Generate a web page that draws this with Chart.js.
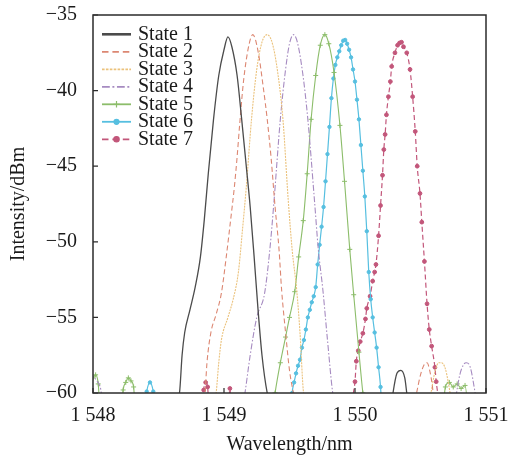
<!DOCTYPE html>
<html>
<head>
<meta charset="utf-8">
<script src="https://cdn.jsdelivr.net/npm/chart.js@4.4.0/dist/chart.umd.min.js"></script>
<style>
  html, body { margin: 0; padding: 0; background: #fff; }
  #wrap { width: 510px; height: 463px; }
</style>
</head>
<body>
<div id="wrap"><canvas id="c" width="510" height="463"></canvas></div>
<script>
// spectra: [wavelength nm, intensity dBm]
// points below -60 sit under the axis and get clipped
const seriesNames = ['State 1', 'State 2', 'State 3', 'State 4', 'State 5', 'State 6', 'State 7'];

const state1 = [
  [1548.55, -62], [1548.66, -60], [1548.68, -57.5], [1548.70, -56], [1548.74, -54.5], [1548.78, -53],
  [1548.82, -51], [1548.85, -48.5], [1548.88, -45.5], [1548.92, -41.9], [1548.96, -39], [1549.00, -37.3],
  [1549.03, -36.45], [1549.06, -37.1], [1549.10, -39], [1549.135, -41.9], [1549.17, -45], [1549.20, -47.7],
  [1549.23, -51], [1549.26, -54.5], [1549.29, -57.5], [1549.33, -60], [1549.40, -62],
  [1550.26, -62], [1550.29, -60], [1550.32, -58.7], [1550.35, -58.5], [1550.38, -59], [1550.40, -60.3], [1550.45, -62]
];

const state2 = [
  [1548.80, -62], [1548.855, -60], [1548.87, -58], [1548.90, -56], [1548.94, -54.8], [1548.98, -53.4],
  [1549.02, -50.8], [1549.05, -48.6], [1549.08, -46.3], [1549.10, -44.4], [1549.12, -42.2], [1549.15, -39.3],
  [1549.19, -37.0], [1549.22, -36.3], [1549.26, -37.4], [1549.30, -39.8], [1549.33, -41.9], [1549.36, -44.5],
  [1549.39, -47.7], [1549.42, -50.5], [1549.44, -53.2], [1549.47, -56], [1549.50, -58.5], [1549.53, -60], [1549.58, -62],
  [1550.42, -62], [1550.47, -60], [1550.50, -58.8], [1550.53, -58.1], [1550.55, -58.0], [1550.57, -58.5], [1550.59, -59.5], [1550.62, -62]
];

const state3 = [
  [1548.90, -62], [1548.94, -60], [1548.96, -58], [1548.98, -56.5], [1549.03, -55], [1549.07, -53.8],
  [1549.11, -52], [1549.14, -49.3], [1549.17, -46.4], [1549.21, -41.9], [1549.25, -38.6], [1549.29, -36.8],
  [1549.33, -36.3], [1549.37, -36.9], [1549.41, -38.8], [1549.45, -41.9], [1549.49, -47.2], [1549.52, -50.5],
  [1549.555, -53.2], [1549.58, -56], [1549.605, -59.8], [1549.66, -62],
  [1550.54, -62], [1550.58, -60], [1550.61, -58.6], [1550.64, -58.0], [1550.66, -58.0], [1550.69, -58.4], [1550.71, -59.2], [1550.73, -60.2], [1550.77, -62]
];

const state4 = [
  [1547.98, -58.6], [1548.00, -58.9], [1548.03, -59.2], [1548.06, -59.8], [1548.09, -62],
  [1549.12, -62], [1549.16, -60], [1549.20, -57.5], [1549.25, -55], [1549.31, -53.4], [1549.35, -50.5],
  [1549.38, -47.5], [1549.43, -41.9], [1549.47, -38.6], [1549.50, -36.9], [1549.53, -36.3], [1549.56, -36.8],
  [1549.60, -38.8], [1549.64, -41.9], [1549.69, -47.2], [1549.72, -50.5], [1549.755, -53.2], [1549.79, -56.5],
  [1549.83, -60], [1549.88, -62],
  [1550.74, -62], [1550.775, -60], [1550.80, -58.8], [1550.83, -58.1], [1550.85, -58.0], [1550.88, -58.3], [1550.915, -59.9], [1550.95, -62]
];

const state5 = [
  [1547.98, -59.2], [1548.00, -59.0], [1548.02, -58.8], [1548.04, -59.4], [1548.06, -62],
  [1548.21, -62], [1548.23, -59.8], [1548.25, -59.3], [1548.27, -59.0], [1548.29, -59.2], [1548.31, -59.6], [1548.33, -62],
  [1549.36, -62], [1549.39, -60], [1549.43, -58], [1549.47, -56.3], [1549.50, -55], [1549.54, -53.3],
  [1549.57, -51], [1549.605, -48.6], [1549.635, -45.5], [1549.665, -41.9], [1549.70, -39], [1549.735, -37],
  [1549.77, -36.3], [1549.80, -36.9], [1549.84, -38.8], [1549.885, -42.3], [1549.92, -46], [1549.96, -50.5],
  [1549.99, -53.5], [1550.03, -57.3], [1550.06, -60], [1550.09, -62],
  [1550.66, -62], [1550.69, -59.6], [1550.72, -59.3], [1550.75, -59.6], [1550.78, -59.4], [1550.81, -59.7], [1550.84, -59.5], [1550.87, -62]
];

const state6 = [
  [1548.38, -62], [1548.41, -59.9], [1548.435, -59.3], [1548.46, -59.9], [1548.49, -62],
  [1549.505, -62], [1549.52, -60], [1549.535, -59.3], [1549.55, -58.7], [1549.565, -58.2], [1549.58, -57.8],
  [1549.595, -57.0], [1549.61, -56.5], [1549.625, -55.8], [1549.64, -55.0], [1549.655, -54.5], [1549.67, -54.0],
  [1549.685, -53.6], [1549.70, -53.0], [1549.715, -51.5], [1549.73, -50.2], [1549.745, -49.0], [1549.76, -47.7],
  [1549.775, -46.0], [1549.79, -44.2], [1549.805, -42.4], [1549.82, -40.5], [1549.835, -39.2], [1549.85, -38.3],
  [1549.865, -37.8], [1549.88, -37.4], [1549.895, -37.0], [1549.91, -36.7], [1549.925, -36.65], [1549.94, -36.9],
  [1549.955, -37.3], [1549.97, -37.8], [1549.985, -38.6], [1550.00, -39.4], [1550.015, -40.6], [1550.03, -41.9],
  [1550.045, -43.6], [1550.06, -45.3], [1550.075, -47.0], [1550.09, -49.3], [1550.105, -52.0], [1550.12, -53.8],
  [1550.135, -55.0], [1550.15, -56.0], [1550.165, -57.0], [1550.18, -58.3], [1550.195, -59.6], [1550.21, -62]
];

const state7 = [
  [1548.83, -62], [1548.845, -59.8], [1548.86, -59.3], [1548.875, -59.6], [1548.89, -62],
  [1549.03, -62], [1549.045, -59.7], [1549.06, -62],
  [1549.97, -62], [1549.985, -60.2], [1550.00, -59.25], [1550.01, -57.9], [1550.025, -57.2], [1550.04, -56.6],
  [1550.06, -56.05], [1550.08, -55.1], [1550.09, -54.4], [1550.115, -53.6], [1550.135, -52.6], [1550.15, -52.0],
  [1550.16, -51.5], [1550.18, -49.6], [1550.195, -47.6], [1550.21, -45.6], [1550.22, -43.9], [1550.23, -42.9],
  [1550.24, -41.6], [1550.255, -40.4], [1550.27, -39.4], [1550.28, -38.4], [1550.305, -37.5], [1550.325, -37.0],
  [1550.34, -36.85], [1550.355, -36.8], [1550.37, -37.1], [1550.395, -37.5], [1550.42, -38.6], [1550.44, -40.4],
  [1550.46, -42.7], [1550.475, -45.0], [1550.496, -46.8], [1550.51, -48.7], [1550.53, -51.3], [1550.55, -54.1],
  [1550.567, -55.8], [1550.585, -56.9], [1550.61, -58.3], [1550.62, -59.25], [1550.635, -60.3], [1550.65, -62]
];

const allStates = [state1, state2, state3, state4, state5, state6, state7];

const xTicks = [1548, 1549, 1550, 1551];
const xTickLabels = ['1 548', '1 549', '1 550', '1 551'];
const yTicks = [-60, -55, -50, -45, -40, -35];
const yTickLabels = ['\u221260', '\u221255', '\u221250', '\u221245', '\u221240', '\u221235'];

const serif = "'Liberation Serif', 'Times New Roman', serif";
const ink = '#1a1a1a';

// line look per state
const looks = [
  { color: '#4b4b4b', width: 1.3, dash: [], point: false },
  { color: '#dc8772', width: 1.1, dash: [5, 3], point: false },
  { color: '#ebc27c', width: 1.1, dash: [2, 1], point: false },
  { color: '#a68bc1', width: 1.1, dash: [6, 2, 1.5, 2], point: false },
  { color: '#8cbd6a', width: 1.1, dash: [], point: 'cross', r: 2.5 },
  { color: '#56bfe0', width: 1.2, dash: [], point: 'circle', r: 1.7 },
  { color: '#c2567a', width: 1.2, dash: [5, 3], point: 'circle', r: 1.9 }
];

const datasets = allStates.map((pts, i) => {
  const lk = looks[i];
  return {
    label: seriesNames[i],
    data: pts.map(p => ({ x: p[0], y: p[1] })),
    borderColor: lk.color,
    backgroundColor: lk.color,
    borderWidth: lk.width,
    borderDash: lk.dash,
    cubicInterpolationMode: 'monotone',
    pointRadius: lk.point ? lk.r : 0,
    pointStyle: lk.point || 'circle',
    pointBorderWidth: 1,
    pointBorderColor: lk.color,
    pointBackgroundColor: lk.color
  };
});

// box round the plot and the short inward ticks
const framePlugin = {
  id: 'frame',
  afterDatasetsDraw(chart) {
    const { ctx, chartArea: a, scales } = chart;
    ctx.save();
    ctx.strokeStyle = '#2b2b2b';
    ctx.lineWidth = 1.5;
    ctx.strokeRect(a.left, a.top, a.right - a.left, a.bottom - a.top);
    ctx.lineWidth = 1.2;
    ctx.beginPath();
    xTicks.forEach(v => {
      const px = scales.x.getPixelForValue(v);
      ctx.moveTo(px, a.bottom);
      ctx.lineTo(px, a.bottom - 5);
    });
    yTicks.forEach(v => {
      const py = scales.y.getPixelForValue(v);
      ctx.moveTo(a.left, py);
      ctx.lineTo(a.left + 5, py);
    });
    ctx.stroke();
    ctx.restore();
  }
};

// tight legend in the upper left corner
const legendPlugin = {
  id: 'cornerLegend',
  afterDraw(chart) {
    const { ctx, chartArea: a } = chart;
    ctx.save();
    chart.data.datasets.forEach((ds, i) => {
      const lk = looks[i];
      const y = a.top + 19.3 + i * 17.5;
      const x0 = a.left + 9, x1 = a.left + 38;
      ctx.strokeStyle = lk.color;
      ctx.lineWidth = i === 0 ? 2.6 : 1.8;
      ctx.setLineDash(lk.dash.map(d => d * 1.3));
      ctx.beginPath();
      ctx.moveTo(x0, y);
      ctx.lineTo(x1, y);
      ctx.stroke();
      ctx.setLineDash([]);
      if (lk.point) {
        ctx.fillStyle = lk.color;
        ctx.lineWidth = 1.2;
        Chart.helpers.drawPoint(ctx, { pointStyle: lk.point, radius: lk.r + 0.8, rotation: 0, borderWidth: 1.2 }, (x0 + x1) / 2, y);
      }
      ctx.fillStyle = ink;
      ctx.font = '20px ' + serif;
      ctx.textBaseline = 'middle';
      ctx.textAlign = 'left';
      ctx.fillText(ds.label, a.left + 45, y);
    });
    ctx.restore();
  }
};

new Chart(document.getElementById('c'), {
  type: 'line',
  data: { datasets },
  options: {
    responsive: false,
    animation: false,
    layout: { padding: { left: 0, right: 24, top: 15, bottom: 0 } },
    plugins: { legend: { display: false }, tooltip: { enabled: false } },
    scales: {
      x: {
        type: 'linear',
        min: 1548,
        max: 1551,
        afterBuildTicks: s => { s.ticks = xTicks.map(v => ({ value: v })); },
        afterFit: s => { s.height = 70; s.paddingLeft = 0; s.paddingRight = 0; },
        grid: { display: false, drawTicks: false },
        border: { display: false },
        ticks: {
          autoSkip: false,
          maxRotation: 0,
          padding: 11,
          color: ink,
          font: { family: serif, size: 20 },
          callback: v => xTickLabels[xTicks.indexOf(v)]
        },
        title: {
          display: true,
          text: 'Wavelength/nm',
          color: ink,
          font: { family: serif, size: 20 },
          padding: { top: 0, bottom: 6 }
        }
      },
      y: {
        type: 'linear',
        min: -60,
        max: -35,
        afterBuildTicks: s => { s.ticks = yTicks.map(v => ({ value: v })); },
        afterFit: s => { s.width = 93; s.paddingTop = 0; s.paddingBottom = 0; },
        grid: { display: false, drawTicks: false },
        border: { display: false },
        ticks: {
          autoSkip: false,
          padding: 16,
          color: ink,
          font: { family: serif, size: 20 },
          callback: v => yTickLabels[yTicks.indexOf(v)]
        },
        title: {
          display: true,
          text: 'Intensity/dBm',
          color: ink,
          font: { family: serif, size: 20 },
          padding: { top: 7, bottom: 0 }
        }
      }
    }
  },
  plugins: [framePlugin, legendPlugin]
});
</script>
</body>
</html>
